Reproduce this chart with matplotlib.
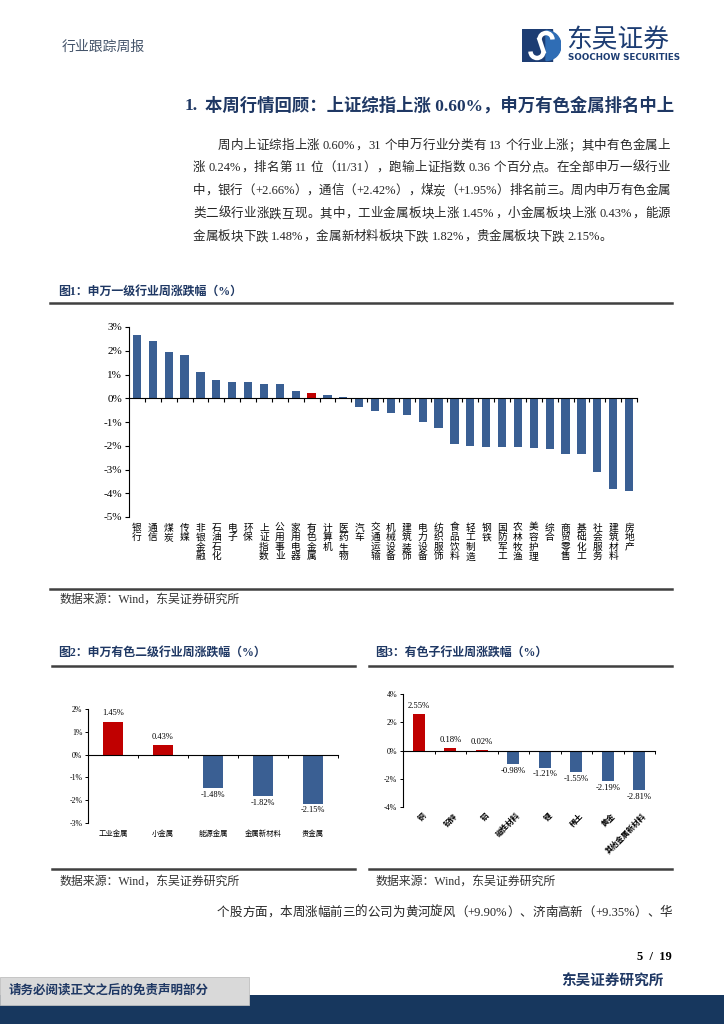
import re
import numpy as np
import matplotlib
matplotlib.use('Agg')
import matplotlib.pyplot as plt
from matplotlib.lines import Line2D
from matplotlib.patches import Rectangle, Arc, Wedge

plt.rcParams['font.family'] = ['Liberation Serif', 'Noto Sans CJK SC', 'DejaVu Sans']

# ---- data ----
sw1_names = ['银行', '通信', '煤炭', '传媒', '非银金融', '石油石化', '电子', '环保',
             '上证指数', '公用事业', '家用电器', '有色金属', '计算机', '医药生物', '汽车',
             '交通运输', '机械设备', '建筑装饰', '电力设备', '纺织服饰', '食品饮料',
             '轻工制造', '钢铁', '国防军工', '农林牧渔', '美容护理', '综合', '商贸零售',
             '基础化工', '社会服务', '建筑材料', '房地产']
sw1_chg = [2.66, 2.42, 1.95, 1.82, 1.09, 0.75, 0.68, 0.67, 0.60, 0.58, 0.29, 0.24,
           0.13, 0.05, -0.35, -0.54, -0.64, -0.72, -0.99, -1.25, -1.92, -2.03, -2.06,
           -2.06, -2.06, -2.10, -2.13, -2.33, -2.33, -3.10, -3.83, -3.90]

sw2_names = ['工业金属', '小金属', '能源金属', '金属新材料', '贵金属']
sw2_chg = [1.45, 0.43, -1.48, -1.82, -2.15]

sub_names = ['铜', '铅锌', '铝', '磁性材料', '锂', '稀土', '黄金', '其他金属新材料']
sub_chg = [2.55, 0.18, 0.02, -0.98, -1.21, -1.55, -2.19, -2.81]

para1 = ['周内上证综指上涨 0.60%，31 个申万行业分类有 13 个行业上涨；其中有色金属上',
         '涨 0.24%，排名第 11 位（11/31），跑输上证指数 0.36 个百分点。在全部申万一级行业',
         '中，银行（+2.66%），通信（+2.42%），煤炭（+1.95%）排名前三。周内申万有色金属',
         '类二级行业涨跌互现。其中，工业金属板块上涨 1.45%，小金属板块上涨 0.43%，能源',
         '金属板块下跌 1.48%，金属新材料板块下跌 1.82%，贵金属板块下跌 2.15%。']
para2 = '个股方面，本周涨幅前三的公司为黄河旋风（+9.90%）、济南高新（+9.35%）、华'

BLUE = '#3a5f93'
RED = '#c00000'
NAVY = '#1f3864'
TXT = '#262626'

W, H = 724, 1024
fig = plt.figure(figsize=(W / 100, H / 100), dpi=100)
renderer = fig.canvas.get_renderer()


def put(x, y, s, **kw):
    kw.setdefault('va', 'center')
    return fig.text(x / W, 1 - y / H, s, **kw)


def axes_px(l, t, r, b):
    return fig.add_axes([l / W, 1 - b / H, (r - l) / W, (b - t) / H])


def hline(x0, x1, y, lw=1.5, color='#404040'):
    fig.add_artist(Line2D([x0 / W, x1 / W], [1 - y / H] * 2, lw=lw, color=color,
                          transform=fig.transFigure))


def rect(x0, y0, x1, y1, color, **kw):
    fig.add_artist(Rectangle((x0 / W, 1 - y1 / H), (x1 - x0) / W, (y1 - y0) / H,
                             facecolor=color, transform=fig.transFigure, **kw))


def text_width(s, fs):
    t = fig.text(0, 0, s, fontsize=fs)
    w = t.get_window_extent(renderer).width
    t.remove()
    return w


def line_of_text(x0, x1, y, s, fs=9, color=TXT, justify=True):
    # split into CJK chars, ascii runs and spaces, then spread to the full width
    tokens = re.findall(r'[A-Za-z0-9.+%/]+| |.', s)
    em = fs * 100 / 72
    widths = []
    for tk in tokens:
        if tk == ' ':
            widths.append(0.25 * em)
        elif len(tk) == 1 and ord(tk) > 0x2E80:
            widths.append(em)
        else:
            widths.append(text_width(tk, fs))
    gap = (x1 - x0 - sum(widths)) / (len(tokens) - 1) if justify else 0
    x = x0
    for tk, w in zip(tokens, widths):
        if tk != ' ':
            put(x, y, tk, fontsize=fs, color=color, ha='left')
        x += w + gap


# ---- header ----
put(62, 47, '行业跟踪周报', fontsize=10, color='#44546a')
lg = axes_px(522, 29, 561, 62)
lg.set_xlim(0, 39)
lg.set_ylim(33, 0)
lg.axis('off')
lg.add_patch(Rectangle((0, 0), 30, 33, color='#1d3d73'))
lg.add_patch(Wedge((24, 16.5), 15, -90, 90, color='#2f6db5'))
lg.add_patch(Arc((24, 10.5), 13, 13, theta1=180, theta2=360, color='white', lw=3.2))
lg.add_patch(Arc((15, 22.5), 13, 13, theta1=0, theta2=180, color='white', lw=3.2))
fig.add_artist(Line2D([(24 - 6.5 + 522) / W, (15 + 6.5 + 522) / W],
                      [1 - (10.5 + 29) / H, 1 - (22.5 + 29) / H],
                      color='white', lw=3.2, transform=fig.transFigure))
put(566, 40, '东吴证券', fontsize=18.5, color='#1d3d73', family='Noto Sans CJK SC')
put(568, 58, 'SOOCHOW SECURITIES', fontsize=6.3, color='#1d3d73', weight='bold',
    family='DejaVu Sans')

# ---- section title + paragraph ----
put(185, 106, '1.', fontsize=12.5, weight='bold', color=NAVY)
put(205, 106, '本周行情回顾：上证综指上涨 0.60%，申万有色金属排名中上', fontsize=12.5,
    weight='bold', color=NAVY)
ys = [146, 168, 191, 214, 237]
for i, (s, y) in enumerate(zip(para1, ys)):
    line_of_text(218 if i == 0 else 193, 670, y, s, justify=(i < len(para1) - 1))

# ---- figure 1 ----
put(58, 292, '图1：申万一级行业周涨跌幅（%）', fontsize=8.6, weight='bold', color=NAVY)
hline(50, 672, 303, lw=1.8)
ax1 = axes_px(129, 327, 637, 517)
n1 = len(sw1_names)
c1 = [RED if nm == '有色金属' else BLUE for nm in sw1_names]
ax1.bar(np.arange(n1), sw1_chg, width=0.52, color=c1)
ax1.set_xlim(-0.5, n1 - 0.5)
ax1.set_ylim(-5, 3)
ax1.set_yticks(range(-5, 4))
ax1.set_yticklabels([f'{t}%' for t in range(-5, 4)], fontsize=8)
ax1.spines[['top', 'right']].set_visible(False)
ax1.spines['bottom'].set_position(('data', 0))
ax1.set_xticks(np.arange(0.5, n1, 1))
ax1.tick_params(axis='x', length=3, labelbottom=False, width=0.8)
ax1.tick_params(axis='y', length=3, width=0.8, pad=2)
for i, nm in enumerate(sw1_names):
    ax1.annotate('\n'.join(nm), xy=(i, 0), xycoords=('data', 'axes fraction'),
                 xytext=(0, -4), textcoords='offset points', ha='center', va='top',
                 fontsize=7, linespacing=0.95, family='Noto Sans CJK SC')
hline(50, 672, 589, lw=1.8)
put(59, 600, '数据来源：Wind，东吴证券研究所', fontsize=8.6, color='#333333')

# ---- figure 2 ----
put(58, 653, '图2：申万有色二级行业周涨跌幅（%）', fontsize=8.6, weight='bold', color=NAVY)
hline(52, 355, 666, lw=1.8)
ax2 = axes_px(88, 709, 338, 823)
n2 = len(sw2_names)
ax2.bar(np.arange(n2), sw2_chg, width=0.4,
        color=[RED if v > 0 else BLUE for v in sw2_chg])
ax2.set_xlim(-0.5, n2 - 0.5)
ax2.set_ylim(-3, 2)
ax2.set_yticks(range(-3, 3))
ax2.set_yticklabels([f'{t}%' for t in range(-3, 3)], fontsize=5.6)
ax2.spines[['top', 'right']].set_visible(False)
ax2.spines['bottom'].set_position(('data', 0))
ax2.set_xticks(np.arange(0.5, n2, 1))
ax2.tick_params(axis='x', length=2.5, labelbottom=False, width=0.7)
ax2.tick_params(axis='y', length=2.5, width=0.7, pad=1.5)
for i, (nm, v) in enumerate(zip(sw2_names, sw2_chg)):
    ax2.annotate(f'{v:.2f}%', xy=(i, v), xytext=(0, 3 if v > 0 else -2),
                 textcoords='offset points', ha='center',
                 va='bottom' if v > 0 else 'top', fontsize=6)
    ax2.annotate(nm, xy=(i, 0), xycoords=('data', 'axes fraction'), xytext=(0, -7),
                 textcoords='offset points', ha='center', va='center', fontsize=5.3)

# ---- figure 3 ----
put(375, 653, '图3：有色子行业周涨跌幅（%）', fontsize=8.6, weight='bold', color=NAVY)
hline(369, 672, 666, lw=1.8)
ax3 = axes_px(403, 694, 655, 807)
n3 = len(sub_names)
ax3.bar(np.arange(n3), sub_chg, width=0.38,
        color=[RED if v > 0 else BLUE for v in sub_chg])
ax3.set_xlim(-0.5, n3 - 0.5)
ax3.set_ylim(-4, 4)
ax3.set_yticks(range(-4, 5, 2))
ax3.set_yticklabels([f'{t}%' for t in range(-4, 5, 2)], fontsize=5.8)
ax3.spines[['top', 'right']].set_visible(False)
ax3.spines['bottom'].set_position(('data', 0))
ax3.set_xticks(np.arange(0.5, n3, 1))
ax3.tick_params(axis='x', length=2.5, labelbottom=False, width=0.7)
ax3.tick_params(axis='y', length=2.5, width=0.7, pad=1.5)
for i, (nm, v) in enumerate(zip(sub_names, sub_chg)):
    ax3.annotate(f'{v:.2f}%', xy=(i, v), xytext=(0, 3 if v > 0 else -2),
                 textcoords='offset points', ha='center',
                 va='bottom' if v > 0 else 'top', fontsize=6.2)
    ax3.annotate(nm, xy=(i, 0), xycoords=('data', 'axes fraction'), xytext=(2, -3),
                 textcoords='offset points', ha='right', va='top', rotation=45,
                 rotation_mode='anchor', fontsize=5.5, weight='bold',
                 family='Noto Sans CJK SC')

hline(52, 355, 869, lw=1.8)
hline(369, 672, 869, lw=1.8)
put(59, 882, '数据来源：Wind，东吴证券研究所', fontsize=8.6, color='#333333')
put(376, 882, '数据来源：Wind，东吴证券研究所', fontsize=8.6, color='#333333')

line_of_text(217, 672, 913, para2)

# ---- footer ----
put(672, 957, '5  /  19', fontsize=9, weight='bold', color='black', ha='right')
put(664, 982, '东吴证券研究所', fontsize=10.5, weight='bold', color=NAVY, ha='right')
rect(0, 995, W, H, '#17375e')
rect(0, 977, 249, 1005, '#d9d9d9', edgecolor='#bfbfbf', lw=0.6)
put(9, 991, '请务必阅读正文之后的免责声明部分', fontsize=9, weight='bold', color=NAVY)

fig.savefig('out.png', dpi=100)
